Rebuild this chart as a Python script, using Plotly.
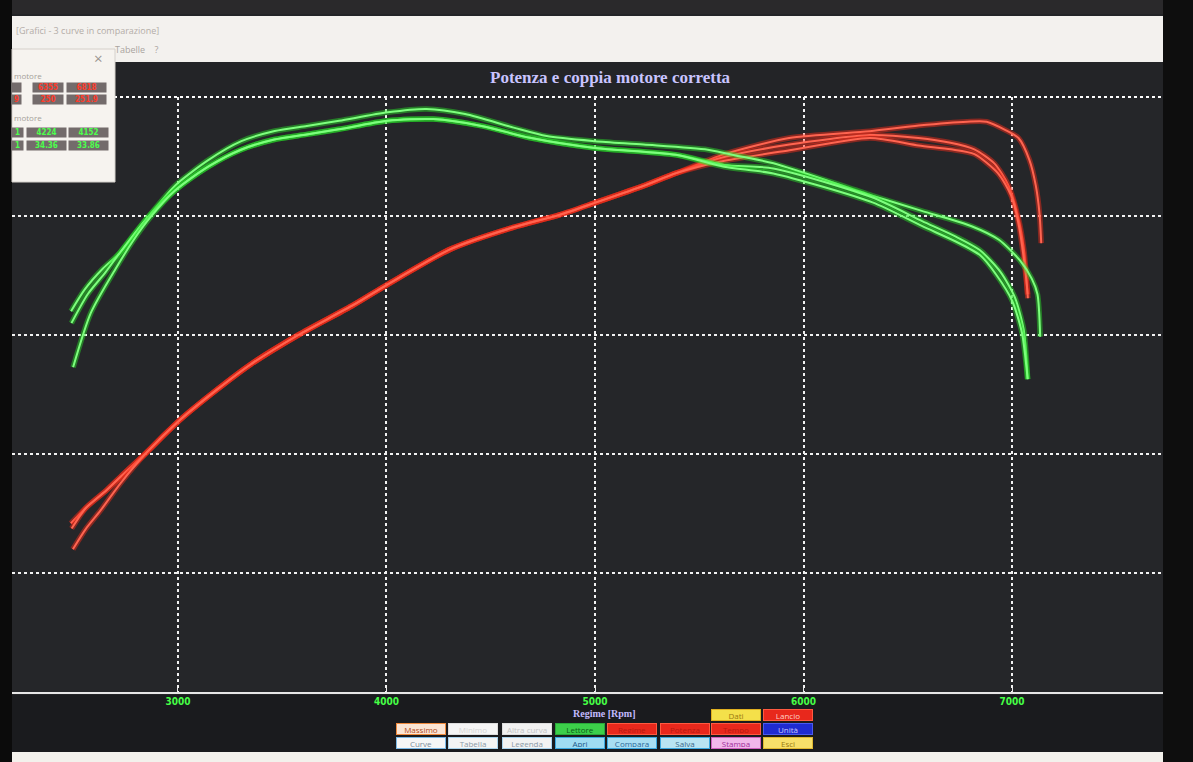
import plotly.graph_objects as go

# Potenza (CV) - tre curve rosse
rpm_p1 = [2486, 2559, 2657, 2725, 2852, 3013, 3187, 3348, 3577, 3833, 4010, 4310, 4608, 4829, 5002,
          5236, 5389, 5621, 5931, 6318, 6552, 6785, 6878, 6971, 7031, 7083, 7114, 7132, 7140]
pot_p1 = [74.4, 81.3, 89.0, 95.0, 105.9, 120.3, 133.4, 144.5, 157.5, 170.3, 180.1, 195.5, 205.0, 210.5, 215.9,
          223.4, 228.9, 237.3, 244.4, 247.4, 249.9, 251.6, 251.6, 247.8, 244.4, 234.8, 223.4, 210.8, 198.0]

rpm_p2 = [2490, 2559, 2657, 2725, 2852, 3013, 3187, 3348, 3577, 3833, 4010, 4310, 4608, 4829, 5002,
          5236, 5389, 5621, 5932, 6318, 6551, 6705, 6819, 6916, 6983, 7029, 7057, 7076]
pot_p2 = [72.1, 81.3, 89.0, 95.0, 105.9, 120.3, 133.4, 144.5, 157.5, 170.3, 180.1, 195.5, 205.0, 210.5, 215.9,
          223.4, 228.9, 236.0, 241.5, 245.7, 244.4, 242.3, 239.4, 233.1, 223.4, 209.6, 195.0, 173.7]

rpm_p3 = [2496, 2559, 2627, 2725, 2852, 3013, 3187, 3348, 3577, 3833, 4010, 4310, 4608, 4829, 5002,
          5236, 5389, 5621, 5933, 6318, 6552, 6707, 6820, 6932, 6995, 7031, 7063, 7075]
pot_p3 = [63.0, 72.1, 79.9, 92.2, 105.9, 120.3, 133.4, 144.5, 157.5, 170.3, 180.1, 195.5, 205.0, 210.5, 215.9,
          223.4, 228.9, 234.4, 239.0, 244.4, 241.1, 239.4, 237.3, 228.9, 219.2, 206.6, 186.5, 175.4]

# Coppia (kgm) - tre curve verdi
rpm_c1 = [2487, 2554, 2639, 2719, 2854, 2987, 3147, 3304, 3464, 3618, 3773, 4006, 4192, 4377, 4610,
          4768, 5000, 5233, 5541, 5700, 5856, 6329, 6567, 6806, 6937, 7037, 7095, 7122, 7135]
cop_c1 = [22.4, 23.7, 24.9, 25.8, 27.9, 29.8, 31.3, 32.4, 33.0, 33.3, 33.6, 34.1, 34.3, 34.0, 33.2,
          32.7, 32.4, 32.2, 31.9, 31.5, 31.1, 29.2, 28.3, 27.4, 26.6, 25.4, 24.3, 23.4, 20.9]

rpm_c2 = [2489, 2567, 2653, 2719, 2854, 2986, 3145, 3302, 3462, 3617, 3771, 4005, 4224, 4456,
          4688, 5000, 5387, 5620, 5855, 6329, 6569, 6728, 6845, 6945, 7014, 7056, 7075]
cop_c2 = [21.7, 23.4, 24.7, 25.8, 27.9, 29.5, 30.9, 31.9, 32.5, 32.8, 33.1, 33.6, 33.7, 33.3,
          32.6, 32.0, 31.6, 31.0, 30.8, 29.1, 27.7, 26.8, 26.0, 24.7, 23.2, 21.3, 18.4]

rpm_c3 = [2497, 2582, 2701, 2788, 2866, 2986, 3145, 3302, 3462, 3617, 3771, 4005, 4224, 4456,
          4688, 5000, 5387, 5620, 5855, 6331, 6570, 6730, 6846, 6927, 7001, 7048, 7075]
cop_c3 = [19.1, 22.3, 24.9, 26.6, 27.9, 29.5, 30.9, 31.9, 32.5, 32.8, 33.1, 33.6, 33.7, 33.3,
          32.6, 32.0, 31.6, 30.9, 30.5, 28.8, 27.4, 26.5, 25.7, 24.5, 23.0, 21.1, 18.4]

# valori del riquadro massimi
box_rpm_pot = ['6355', '6818']
box_pot = ['250', '251.9']
box_rpm_cop = ['4224', '4152']
box_cop = ['34.36', '33.86']

# pulsanti in basso
row1_labels = ['Massimo', 'Minimo', 'Altra curva', 'Lettore', 'Regime', 'Potenza', 'Tempo', 'Unità']
row2_labels = ['Curve', 'Tabella', 'Legenda', 'Apri', 'Compara', 'Salva', 'Stampa', 'Esci']

W, H = 1193, 762


def px(x):
    return x / W


def py(y):
    return 1 - y / H


fig = go.Figure()

# curves with a soft glow underneath
curves = [(rpm_p1, pot_p1, 'y', 'red'), (rpm_p2, pot_p2, 'y', 'red'), (rpm_p3, pot_p3, 'y', 'red'),
          (rpm_c1, cop_c1, 'y2', 'green'), (rpm_c2, cop_c2, 'y2', 'green'), (rpm_c3, cop_c3, 'y2', 'green')]
for xs, ys, ax, col in curves:
    glow = 'rgba(255,45,25,0.45)' if col == 'red' else 'rgba(40,230,40,0.45)'
    core = '#ff6450' if col == 'red' else '#7dff7d'
    fig.add_trace(go.Scatter(x=xs, y=ys, yaxis=ax, mode='lines', hoverinfo='skip', showlegend=False,
                             line=dict(color=glow, width=5.5, shape='spline', smoothing=0.7)))
    fig.add_trace(go.Scatter(x=xs, y=ys, yaxis=ax, mode='lines', showlegend=False,
                             line=dict(color=core, width=2, shape='spline', smoothing=0.7)))

shapes = []
annots = []


def note(text, x, y, **kw):
    # annotation placed by its centre, in pixels of the picture
    d = dict(text=text, x=px(x), y=py(y), xref='paper', yref='paper', showarrow=False,
             xanchor='center', yanchor='middle')
    d.update(kw)
    annots.append(d)


# frame of the photo: bezel, window bar, dark strips
shapes.append(dict(type='rect', xref='paper', yref='paper', x0=0, x1=1, y0=py(14), y1=1,
                   fillcolor='#2a292b', line_width=0, layer='below'))
shapes.append(dict(type='rect', xref='paper', yref='paper', x0=0, x1=1, y0=py(62), y1=py(16),
                   fillcolor='#f3f1ee', line_width=0, layer='below'))
shapes.append(dict(type='rect', xref='paper', yref='paper', x0=0, x1=1, y0=py(752), y1=py(695),
                   fillcolor='#1a1b1e', line_width=0, layer='below'))
shapes.append(dict(type='rect', xref='paper', yref='paper', x0=0, x1=1, y0=0, y1=py(752),
                   fillcolor='#f3f1ec', line_width=0, layer='below'))
shapes.append(dict(type='rect', xref='paper', yref='paper', x0=0, x1=px(12), y0=0, y1=1,
                   fillcolor='#0b0b0b', line_width=0, layer='above'))
shapes.append(dict(type='rect', xref='paper', yref='paper', x0=px(1163), x1=1, y0=0, y1=1,
                   fillcolor='#0e0e0e', line_width=0, layer='above'))
# top dotted border of the grid
shapes.append(dict(type='line', xref='paper', yref='paper', x0=px(12), x1=px(1163), y0=py(97), y1=py(97),
                   line=dict(color='white', width=2, dash='dot'), layer='below'))

note('[Grafici - 3 curve in comparazione]', 14, 31, xanchor='left',
     font=dict(size=9, color='#b3ada8', family='Open Sans'))
note('Tabelle    ?', 113, 49, xanchor='left', font=dict(size=9, color='#aaa49f', family='Open Sans'))

# popup with max values
shapes.append(dict(type='rect', xref='paper', yref='paper', x0=px(12), x1=px(115), y0=py(182), y1=py(49),
                   fillcolor='#f6f3ef', line=dict(color='#d5d0cb', width=1), layer='above'))
note('×', 98, 58, font=dict(size=15, color='#9a9591'))
for yy in (75, 118):
    note('motore', 12, yy, xanchor='left', font=dict(size=8, color='#a59f9a', family='Open Sans'))

cells = [(87, '#ff3a2a', ['', box_rpm_pot[0], box_rpm_pot[1]], [(12, 21), (33, 63), (67, 106)]),
         (99, '#ff3a2a', ['9', box_pot[0], box_pot[1]], [(12, 21), (33, 63), (67, 106)]),
         (132, '#4dff4d', ['1', box_rpm_cop[0], box_rpm_cop[1]], [(12, 23), (27, 66), (69, 108)]),
         (145, '#4dff4d', ['1', box_cop[0], box_cop[1]], [(12, 23), (27, 66), (69, 108)])]
for yc, col, texts, xs in cells:
    for (a, b), t in zip(xs, texts):
        note('<b>' + t + '</b>', (a + b) / 2, yc, width=b - a, height=9, borderpad=0, bgcolor='#736b6b',
             font=dict(size=8, color=col, family='DejaVu Sans Condensed'))

# titles
note('<b>Potenza e coppia motore corretta</b>', 610, 77,
     font=dict(size=17, color='#c9c4ff', family='Liberation Serif'))
note('<b>Regime [Rpm]</b>', 604, 713, font=dict(size=10, color='#c2baff', family='Liberation Serif'))

# buttons
btn_x = [421, 473, 527, 580, 632, 685, 736, 788]
row1_bg = ['#fbe5d4', '#f5f5f5', '#f1f1f1', '#3ccf4a', '#e8281c', '#e8281c', '#e8281c', '#1f2bd0']
row1_bd = ['#f08a3c', '#dddddd', '#dddddd', '#2aa83a', '#ff5a40', '#ff5a40', '#ff5a40', '#4a5af0']
row1_tx = ['#b04a1a', '#d4d4d4', '#c4c4c4', '#0c5a16', '#b81a10', '#b81a10', '#b81a10', '#c8c8ff']
row2_bg = ['#f6f6f6', '#f4f4f4', '#f2f2f2', '#9fdcf2', '#a8def2', '#b8e4f2', '#f1b7ea', '#f7e06a']
row2_bd = ['#7ab8e6', '#aad4ee', '#aad4ee', '#3aa8e0', '#3aa8e0', '#3aa8e0', '#d060c0', '#e0b830']
row2_tx = ['#7a8a9a', '#8a9aa8', '#8a9aa8', '#1a5a8a', '#2a6a9a', '#3a6a8a', '#a0309a', '#9a7a10']
for labels, yy, bgs, bds, txs in ((row1_labels, 729, row1_bg, row1_bd, row1_tx),
                                  (row2_labels, 743, row2_bg, row2_bd, row2_tx)):
    for xx, lab, bg, bd, tx in zip(btn_x, labels, bgs, bds, txs):
        note(lab, xx, yy, width=46, height=8, bgcolor=bg, bordercolor=bd, borderwidth=1, borderpad=1,
             font=dict(size=8, color=tx, family='Open Sans'))
for xx, lab, bg, bd, tx in ((736, 'Dati', '#f4e04a', '#e0b020', '#9a7a10'),
                            (788, 'Lancio', '#e8281c', '#ff5a40', '#ffd0c8')):
    note(lab, xx, 715, width=46, height=8, bgcolor=bg, bordercolor=bd, borderwidth=1, borderpad=1,
         font=dict(size=8, color=tx, family='Open Sans'))

grid = dict(showgrid=True, gridcolor='#f2f2f2', gridwidth=2, griddash='dot', zeroline=False)

fig.update_layout(
    width=W, height=H,
    margin=dict(l=0, r=0, t=0, b=0),
    paper_bgcolor='#232427',
    plot_bgcolor='#252629',
    showlegend=False,
    hovermode='closest',
    xaxis=dict(domain=[px(12), px(1163)], range=[2204, 7724], tick0=3000, dtick=1000,
               showline=True, linecolor='#e6e6e6', linewidth=2, ticks='inside', ticklen=4,
               tickcolor='#e6e6e6', tickwidth=1, ticklabelstandoff=-1,
               tickfont=dict(size=10, color='#46ff46', family='DejaVu Sans Condensed', weight='bold'),
               **grid),
    yaxis=dict(domain=[py(692), py(97)], range=[0, 262.5], tick0=0, dtick=52.5,
               showticklabels=False, ticks='', **grid),
    yaxis2=dict(overlaying='y', range=[0, 35], showgrid=False, zeroline=False,
                showticklabels=False, ticks='', side='right'),
    shapes=shapes,
    annotations=annots,
)

# page without the default body margin so the figure fills the window
fig.write_html("out.html", config={'displayModeBar': False},
               post_script="document.body.style.margin='0';")
